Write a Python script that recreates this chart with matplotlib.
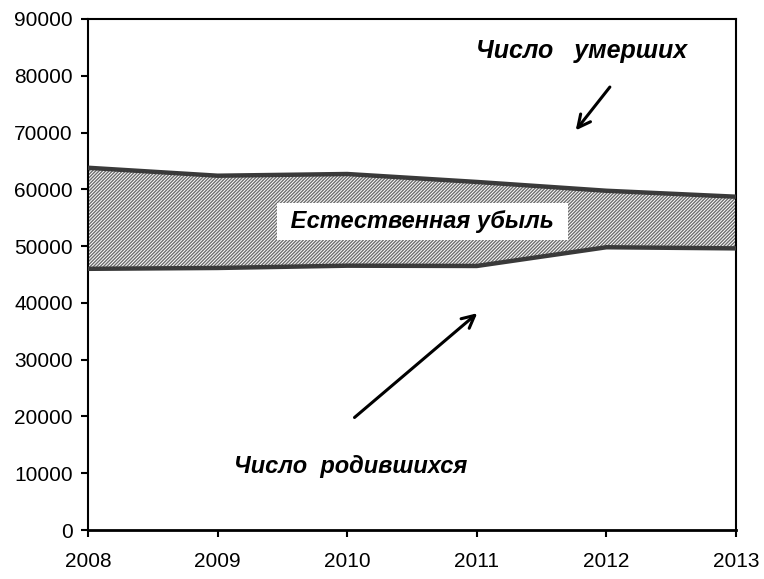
import matplotlib
matplotlib.use("Agg")
import matplotlib.pyplot as plt

plt.rcParams['font.family'] = ['Liberation Sans', 'DejaVu Sans']
plt.rcParams['hatch.linewidth'] = 1.0
plt.rcParams['hatch.color'] = '#6e6e6e'

years = [2008, 2009, 2010, 2011, 2012, 2013]
deaths = [63800, 62400, 62700, 61300, 59750, 58700]
births = [46000, 46150, 46550, 46500, 49800, 49600]
yticks = [0, 10000, 20000, 30000, 40000, 50000, 60000, 70000, 80000, 90000]

fig = plt.figure(figsize=(7.64, 5.79), dpi=100)
ax = fig.add_axes([88/764, 1-530/579, (736-88)/764, (530-19)/579])

ax.fill_between(years, births, deaths, facecolor='white', edgecolor='#6e6e6e',
                hatch='//////////', linewidth=0)
ax.plot(years, deaths, color='#3a3a3a', lw=3.2, solid_capstyle='butt', zorder=3)
ax.plot(years, births, color='#3a3a3a', lw=3.2, solid_capstyle='butt', zorder=3)

ax.set_xlim(2008, 2013)
ax.set_ylim(0, 90000)
ax.set_xticks(years)
ax.set_yticks(yticks)
ax.set_xticklabels([str(y) for y in years], fontsize=15)
ax.set_yticklabels([str(v) for v in yticks], fontsize=15)
ax.tick_params(direction='out', length=5, width=1.5, pad=6)
ax.tick_params(axis='x', pad=11)
for s in ax.spines.values():
    s.set_linewidth(1.5)
    s.set_color('black')
ax.spines['bottom'].set_linewidth(2)

ax.text(2010.58, 54300, ' Естественная убыль ', fontsize=17, fontweight='bold',
        fontstyle='italic', ha='center', va='center', zorder=5,
        bbox=dict(boxstyle='square,pad=0.3', facecolor='white', edgecolor='none'))
ax.text(2011.81, 84300, 'Число   умерших', fontsize=18, fontweight='bold',
        fontstyle='italic', ha='center', va='center')
ax.text(2010.03, 11100, 'Число  родившихся', fontsize=17, fontweight='bold',
        fontstyle='italic', ha='center', va='center')

ax.annotate('', xy=(2011.75, 70000), xytext=(2012.04, 78400),
            arrowprops=dict(arrowstyle='->,head_length=0.9,head_width=0.45', lw=2.2, color='black'))
ax.annotate('', xy=(2011.02, 38500), xytext=(2010.04, 19500),
            arrowprops=dict(arrowstyle='->,head_length=0.9,head_width=0.45', lw=2.2, color='black'))

fig.savefig('out.png', dpi=100)
